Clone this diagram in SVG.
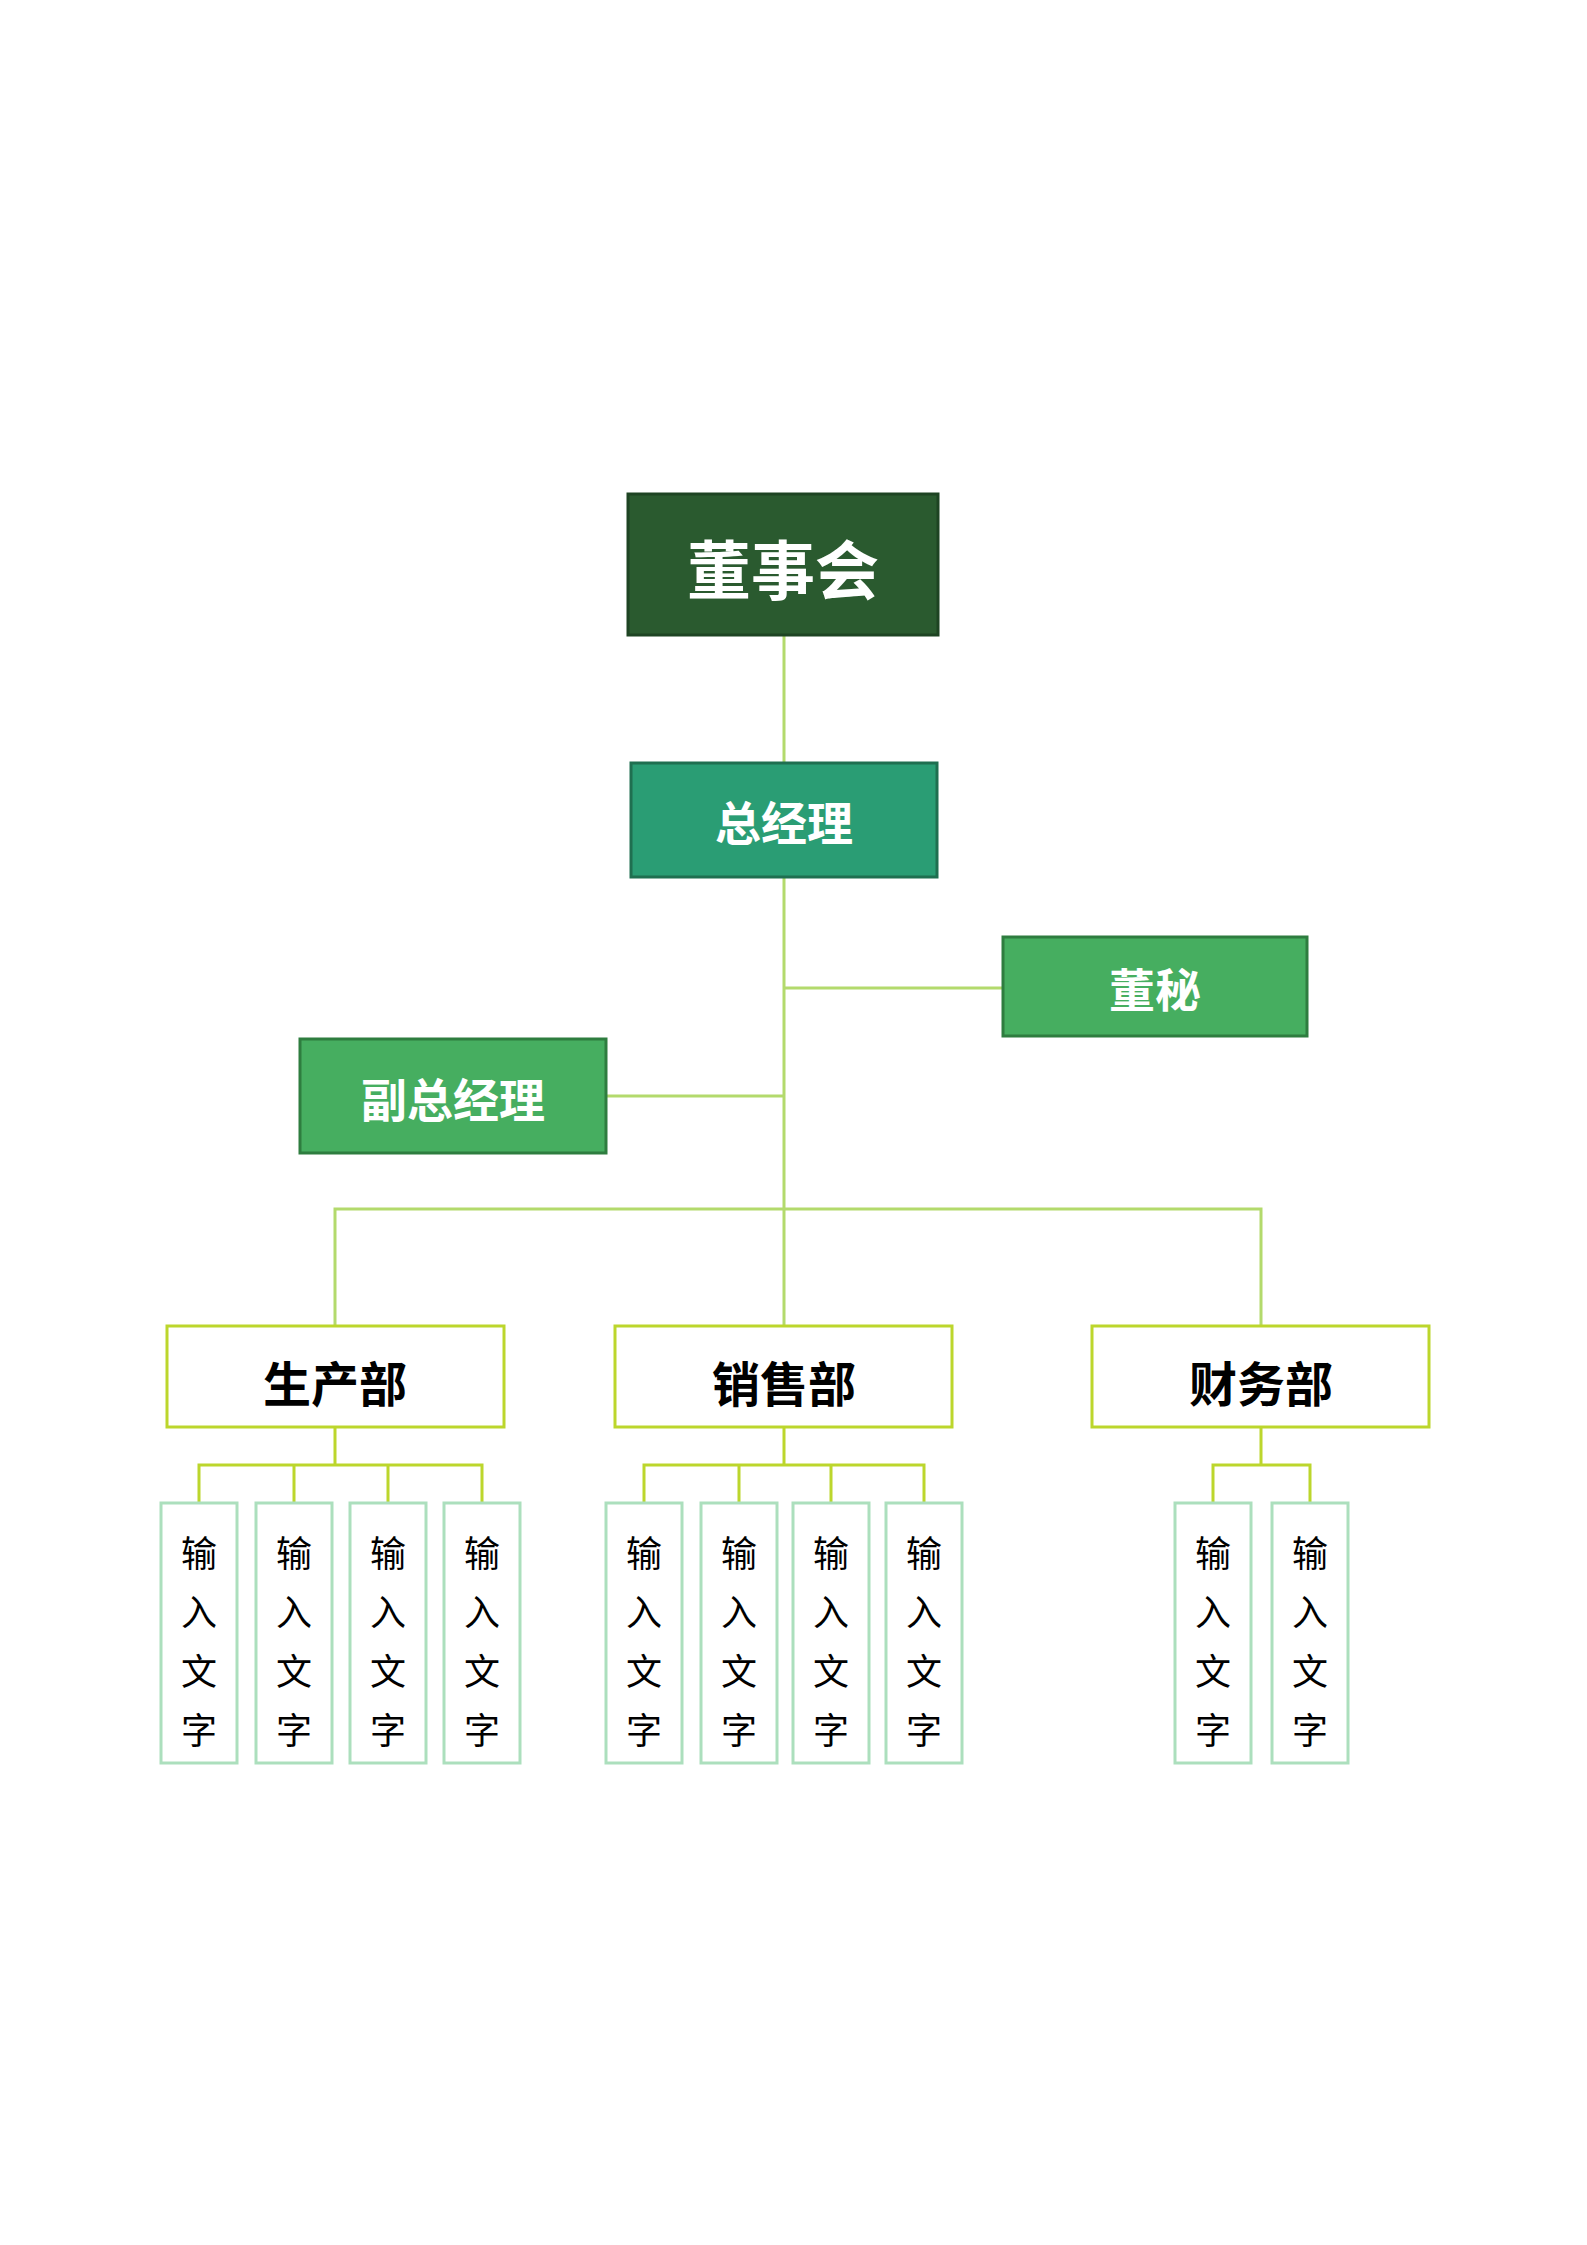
<svg xmlns="http://www.w3.org/2000/svg" width="1587" height="2245" viewBox="0 0 1587 2245">
<style>
.t{font-family:"Noto Sans CJK SC",sans-serif;font-weight:bold;text-anchor:middle;dominant-baseline:central}
.w{fill:#fff}
.leaf{fill:#fff;stroke:#acdfbd;stroke-width:3}
.dept{fill:#fff;stroke:#bcd62c;stroke-width:3}
.lt{font-family:"Noto Sans CJK SC",sans-serif;font-size:36px;text-anchor:middle;dominant-baseline:central;fill:#000}
.c{fill:none;stroke:#b3da6c;stroke-width:3}
.c2{fill:none;stroke:#bcd62c;stroke-width:3}
</style>
<rect width="1587" height="2245" fill="#fff"/>
<g id="connectors">
<path class="c" d="M784 635V1326M784 988H1003M606 1096H784M335 1326V1209H1261V1326"/>
<path class="c2" d="M335 1427V1465M199 1503V1465H482V1503M294 1465V1503M388 1465V1503"/>
<path class="c2" d="M784 1427V1465M644 1503V1465H924V1503M739 1465V1503M831 1465V1503"/>
<path class="c2" d="M1261 1427V1465M1213 1503V1465H1310V1503"/>
</g>
<g id="n-board"><rect x="628" y="494" width="310" height="141" fill="#2a5a2f" stroke="#1e4423" stroke-width="3"/><text class="t w" x="783" y="566" font-size="64">董事会</text></g>
<g id="n-gm"><rect x="631" y="763" width="306" height="114" fill="#2a9d74" stroke="#1f6f50" stroke-width="3"/><text class="t w" x="784" y="820" font-size="46">总经理</text></g>
<g id="n-sec"><rect x="1003" y="937" width="304" height="99" fill="#46ae60" stroke="#2e7d3f" stroke-width="3"/><text class="t w" x="1155" y="987" font-size="46">董秘</text></g>
<g id="n-vgm"><rect x="300" y="1039" width="306" height="114" fill="#46ae60" stroke="#2e7d3f" stroke-width="3"/><text class="t w" x="453" y="1097" font-size="46">副总经理</text></g>
<g id="n-prod"><rect class="dept" x="167" y="1326" width="337" height="101"/><text class="t" x="335" y="1381" font-size="48">生产部</text></g>
<g id="n-sales"><rect class="dept" x="615" y="1326" width="337" height="101"/><text class="t" x="784" y="1381" font-size="48">销售部</text></g>
<g id="n-fin"><rect class="dept" x="1092" y="1326" width="337" height="101"/><text class="t" x="1261" y="1381" font-size="48">财务部</text></g>
<g id="leaves">
<g id="l1"><rect class="leaf" x="161" y="1503" width="76" height="260"/><text class="lt" x="199"><tspan x="199" y="1551">输</tspan><tspan x="199" y="1610">入</tspan><tspan x="199" y="1669">文</tspan><tspan x="199" y="1728">字</tspan></text></g>
<g id="l2"><rect class="leaf" x="256" y="1503" width="76" height="260"/><text class="lt"><tspan x="294" y="1551">输</tspan><tspan x="294" y="1610">入</tspan><tspan x="294" y="1669">文</tspan><tspan x="294" y="1728">字</tspan></text></g>
<g id="l3"><rect class="leaf" x="350" y="1503" width="76" height="260"/><text class="lt"><tspan x="388" y="1551">输</tspan><tspan x="388" y="1610">入</tspan><tspan x="388" y="1669">文</tspan><tspan x="388" y="1728">字</tspan></text></g>
<g id="l4"><rect class="leaf" x="444" y="1503" width="76" height="260"/><text class="lt"><tspan x="482" y="1551">输</tspan><tspan x="482" y="1610">入</tspan><tspan x="482" y="1669">文</tspan><tspan x="482" y="1728">字</tspan></text></g>
<g id="l5"><rect class="leaf" x="606" y="1503" width="76" height="260"/><text class="lt"><tspan x="644" y="1551">输</tspan><tspan x="644" y="1610">入</tspan><tspan x="644" y="1669">文</tspan><tspan x="644" y="1728">字</tspan></text></g>
<g id="l6"><rect class="leaf" x="701" y="1503" width="76" height="260"/><text class="lt"><tspan x="739" y="1551">输</tspan><tspan x="739" y="1610">入</tspan><tspan x="739" y="1669">文</tspan><tspan x="739" y="1728">字</tspan></text></g>
<g id="l7"><rect class="leaf" x="793" y="1503" width="76" height="260"/><text class="lt"><tspan x="831" y="1551">输</tspan><tspan x="831" y="1610">入</tspan><tspan x="831" y="1669">文</tspan><tspan x="831" y="1728">字</tspan></text></g>
<g id="l8"><rect class="leaf" x="886" y="1503" width="76" height="260"/><text class="lt"><tspan x="924" y="1551">输</tspan><tspan x="924" y="1610">入</tspan><tspan x="924" y="1669">文</tspan><tspan x="924" y="1728">字</tspan></text></g>
<g id="l9"><rect class="leaf" x="1175" y="1503" width="76" height="260"/><text class="lt"><tspan x="1213" y="1551">输</tspan><tspan x="1213" y="1610">入</tspan><tspan x="1213" y="1669">文</tspan><tspan x="1213" y="1728">字</tspan></text></g>
<g id="l10"><rect class="leaf" x="1272" y="1503" width="76" height="260"/><text class="lt"><tspan x="1310" y="1551">输</tspan><tspan x="1310" y="1610">入</tspan><tspan x="1310" y="1669">文</tspan><tspan x="1310" y="1728">字</tspan></text></g>
</g>
</svg>
